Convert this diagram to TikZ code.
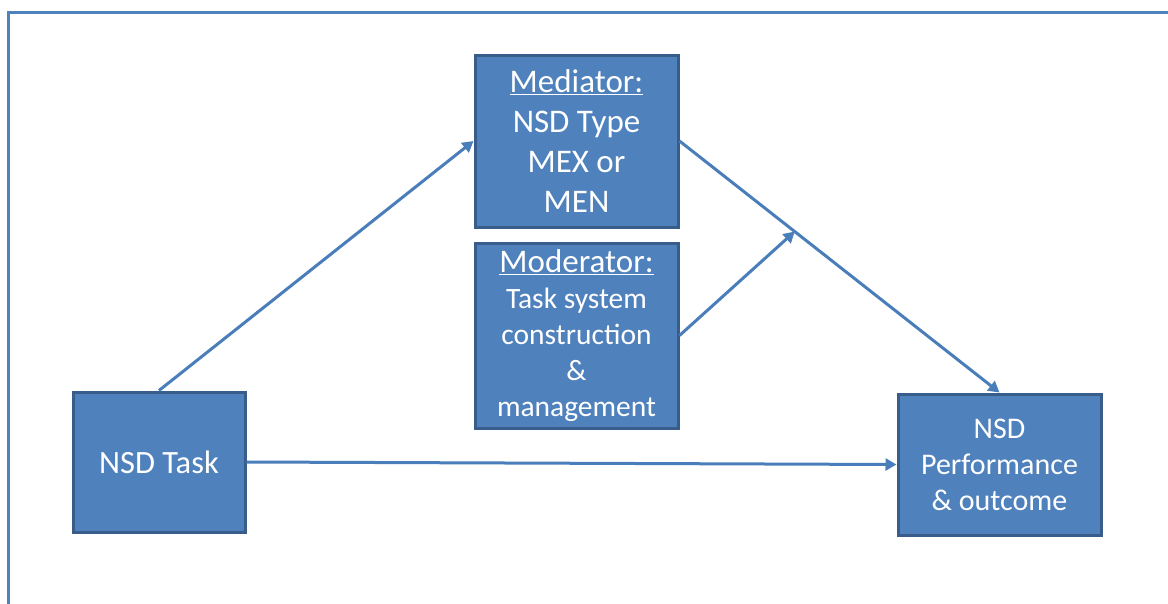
\documentclass[tikz,border=0pt]{standalone}
\usepackage{fontspec}
\setmainfont{Carlito}
\usetikzlibrary{arrows.meta,calc}
\definecolor{boxfill}{HTML}{4F81BD}
\definecolor{boxline}{HTML}{385D8A}
\definecolor{arrowc}{HTML}{4A7EBB}
\definecolor{framec}{HTML}{4F81BD}
\tikzset{
  box/.style={draw=boxline, line width=3pt, fill=boxfill, text=white, align=center, inner sep=0pt},
  conn/.style={draw=arrowc, line width=3pt, -{Triangle[length=11pt,width=12pt]}},
}
\begin{document}
\begin{tikzpicture}[x=1pt,y=-1pt]
\useasboundingbox (0,0) rectangle (1168,603);
\fill[white] (0,0) rectangle (1168,603);
\draw[framec, line width=3pt] (8,610) -- (8,12) -- (1175,12);

\node[box, minimum width=203pt, minimum height=172pt, font=\fontsize{33}{40}\selectfont] (med) at (576.5,141)
  {\underline{Mediator:}\\NSD Type\\MEX or\\MEN};
\node[box, minimum width=203pt, minimum height=185pt, font=\fontsize{29.5}{36}\selectfont] (mod) at (576.5,335.5)
  {{\fontsize{33}{36}\selectfont\underline{Moderator:}}\\Task system\\construction\\\&\\management};
\node[box, minimum width=172pt, minimum height=140pt, font=\fontsize{32.5}{39}\selectfont] (task) at (159,462)
  {NSD Task};
\node[box, minimum width=203pt, minimum height=141pt, font=\fontsize{30}{36}\selectfont] (perf) at (999.5,464.5)
  {NSD\\Performance\\\& outcome};

\coordinate (mid) at ($(med.east)!0.36!(perf.north)$);
\draw[conn] (task.north) -- (med.west);
\draw[conn] (med.east) -- (perf.north);
\draw[conn] (mod.east) -- (mid);
\draw[conn] (task.east) -- (perf.west);
\end{tikzpicture}
\end{document}
